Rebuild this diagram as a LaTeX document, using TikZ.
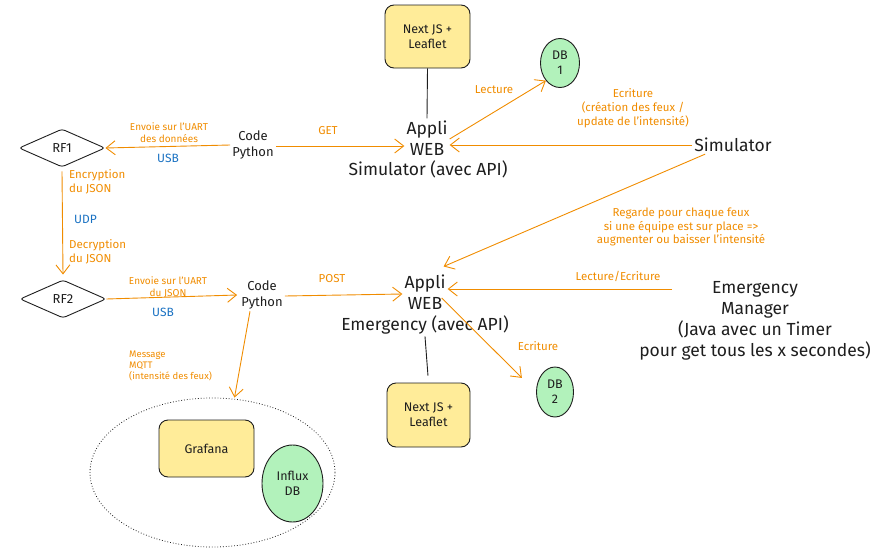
\documentclass[tikz,border=0pt]{standalone}
\usepackage{fontspec}
\setmainfont{Fira Sans}
\usetikzlibrary{arrows.meta,shapes.geometric}
\definecolor{ink}{HTML}{1E1E1E}
\definecolor{flow}{HTML}{F08C00}
\definecolor{link}{HTML}{1971C2}
\definecolor{paleyellow}{HTML}{FFEC99}
\definecolor{palegreen}{HTML}{B2F2BB}
\tikzset{
  fs/.style={font=\fontsize{#1pt}{\dimexpr#1pt*6/5\relax}\selectfont},
  txt/.style={text=ink, align=center, inner sep=2pt},
  note/.style={text=flow, align=center, inner sep=1pt, fs=11},
  proto/.style={text=link, inner sep=1pt, fs=12},
  app/.style={draw=ink, line width=0.9pt, fill=paleyellow, rounded corners=9pt,
    align=center, fs=12.5, text=ink},
  db/.style={ellipse, draw=ink, line width=0.9pt, fill=palegreen, align=center,
    fs=12.5, text=ink, inner sep=0pt},
  radio/.style={diamond, draw=ink, line width=0.9pt, rounded corners=3pt,
    minimum width=86pt, minimum height=38pt, inner sep=0pt, fs=13, text=ink},
  flowarrow/.style={draw=flow, line width=0.9pt,
    -{Straight Barb[length=9pt,width=14pt,line width=0.9pt]}},
  plain/.style={draw=ink, line width=0.9pt}
}
\begin{document}
\begin{tikzpicture}[x=1pt,y=-1pt]
\useasboundingbox (0,0) rectangle (889,554);

% --- Simulator side ---
\node[app, minimum width=85pt, minimum height=63pt] (nj1) at (427.5,36.5) {Next JS +\\Leaflet};
\node[db, minimum width=39pt, minimum height=49pt] (db1) at (560,63) {DB\\1};
\node[txt, fs=17.5] (app1) at (427,138) {Appli\\WEB};
\node[txt, fs=17.5] (sim1) at (428,169) {Simulator (avec API)};
\node[txt, fs=17.5] (sim) at (733,145) {Simulator};
\node[txt, fs=13] (code1) at (253,145) {Code\\Python};
\node[radio] (rf1) at (62,148) {RF1};

\draw[plain] (nj1.south) -- (app1.north);
\draw[flowarrow] ([yshift=-1pt]app1.east) -- (db1.south west);
\node[note, fs=11.5] at (494,90) {Lecture};
\draw[flowarrow] (sim.west) -- ([yshift=-7pt]app1.east);
\node[note, fs=11.5] at (633,108) {Ecriture\\(création des feux /\\update de l'intensité)};
\draw[flowarrow] ([yshift=-1pt]code1.east) -- ([yshift=-8pt]app1.west);
\node[note, fs=11.5] at (328,131) {GET};
\draw[flowarrow] (code1.west) -- (rf1.east);
\node[note, fs=10] at (169,133) {Envoie sur l'UART\\des données};
\node[proto] at (168,158) {USB};

% --- RF link ---
\node[radio] (rf2) at (63,299) {RF2};
\draw[flowarrow] ([yshift=-4pt]rf1.south) -- ([yshift=5pt]rf2.north);
\node[note, fs=11.5, align=left, anchor=west] at (68,182) {Encryption\\du JSON};
\node[proto, anchor=west] at (73,219) {UDP};
\node[note, fs=11.5, align=left, anchor=west] at (68,252) {Decryption\\du JSON};

% --- Emergency side ---
\node[txt, fs=13] (code2) at (262,295) {Code\\Python};
\node[txt, fs=17.5] (app2) at (425,292) {Appli\\WEB};
\node[txt, fs=17.5] (em2) at (425,325) {Emergency (avec API)};
\node[txt, fs=17.5] (mgr) at (755,321) {Emergency\\Manager\\(Java avec un Timer\\pour get tous les x secondes)};
\coordinate (mgrin) at (672,289);
\node[app, minimum width=83pt, minimum height=64pt] (nj2) at (428.5,415) {Next JS +\\Leaflet};
\node[db, minimum width=37pt, minimum height=50pt] (db2) at (555,392) {DB\\2};

\draw[flowarrow] (rf2.east) -- ([xshift=-2pt]code2.west);
\node[note, fs=10] at (168,287) {Envoie sur l'UART\\du JSON};
\node[proto] at (163,312) {USB};
\draw[flowarrow] ([yshift=-1pt]code2.east) -- ([yshift=-2pt]app2.west);
\node[note, fs=11.5] at (332,279) {POST};
\draw[flowarrow] ([xshift=13pt]sim.south west) -- ([xshift=-4pt,yshift=6pt]app2.north east);
\node[note, fs=11.5] at (681,227) {Regarde pour chaque feux\\si une équipe est sur place =>\\augmenter ou baisser l'intensité};
\draw[flowarrow] (mgrin) -- ([yshift=3pt]app2.east);
\node[note, fs=11.5] at (618,276) {Lecture/Ecriture};
\draw[flowarrow, shorten >=20pt] ([xshift=-6pt,yshift=-6pt]app2.east) -- (db2.west);
\node[note, fs=11.5] at (538,346) {Ecriture};
\draw[plain, shorten >=7pt] (em2.south) -- (nj2.north);

% --- Monitoring stack ---
\node[ellipse, draw=ink, dotted, line width=0.8pt, minimum width=245pt, minimum height=149pt] (mon) at (212.5,472.5) {};
\node[app, minimum width=95pt, minimum height=57pt] (graf) at (206.5,448.5) {Grafana};
\node[db, minimum width=61pt, minimum height=77pt] (influx) at (292.5,483.5) {Influx\\DB};
\draw[flowarrow] ([xshift=-12pt]code2.south) -- ([xshift=22pt]mon.north);
\node[note, fs=9.5, align=left, anchor=west] at (128,366) {Message\\MQTT\\(intensité des feux)};
\end{tikzpicture}
\end{document}
